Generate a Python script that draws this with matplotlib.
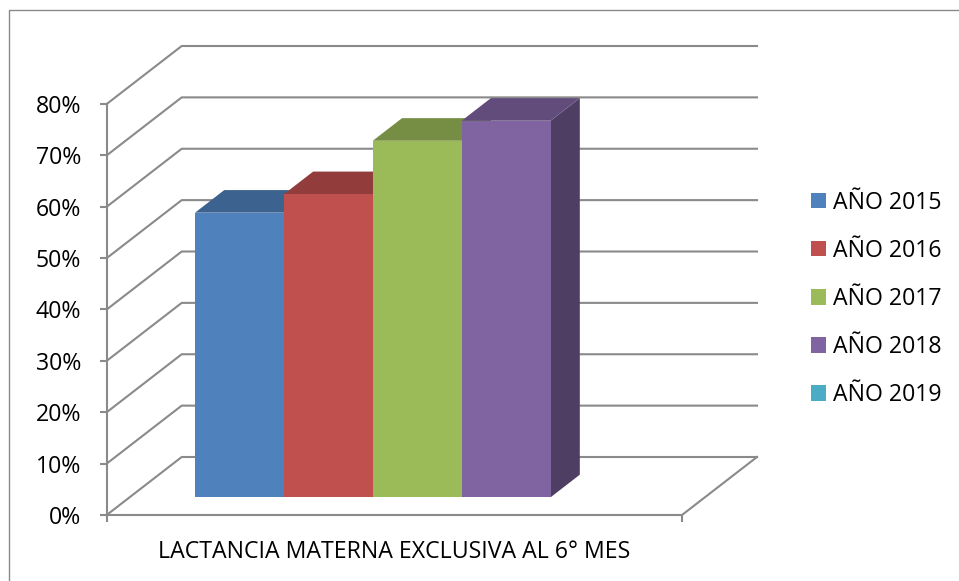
import numpy as np
import matplotlib
matplotlib.use("Agg")
import matplotlib.pyplot as plt
from matplotlib.patches import Polygon, Patch
from matplotlib.lines import Line2D
from matplotlib.transforms import IdentityTransform
from matplotlib.colors import to_rgb

plt.rcParams['font.family'] = ['Open Sans', 'DejaVu Sans']

categoria = 'LACTANCIA MATERNA EXCLUSIVA AL 6° MES'
series = ['AÑO 2015', 'AÑO 2016', 'AÑO 2017', 'AÑO 2018', 'AÑO 2019']
valores = [55.4, 59.0, 69.4, 73.3, None]   # 2019 sin dato
colores = ['#4F81BD', '#C0504D', '#9BBB59', '#8064A2', '#4BACC6']
yticks = [0, 10, 20, 30, 40, 50, 60, 70, 80]

W, H = 959, 581
gris = '#8a8a8a'
fs = 16.7

fig = plt.figure(figsize=(W / 100, H / 100), dpi=100)
ax = fig.add_axes([106.7 / W, 66 / H, 575.3 / W, 411 / H])

n = len(series)
gap = 0.736
ax.set_xlim(-gap, n + gap)
ax.set_ylim(0, 80)

# profundidad oblicua (pixeles) y posicion de las barras en la profundidad
ox, oy = 75, 58
d0, d1 = 0.305, 0.695


def proj(x, v, d):
    px, py = ax.transData.transform((x, v))
    return (px + d * ox, py + d * oy)


def linea(pts, **kw):
    xs, ys = zip(*pts)
    ax.add_line(Line2D(xs, ys, transform=IdentityTransform(), clip_on=False,
                       color=gris, lw=1.5, **kw))


def sombra(c, f):
    return tuple(np.array(to_rgb(c)) * f)


# paredes: lineas de division en pared lateral y fondo
for v in yticks:
    linea([proj(-gap, v, 0), proj(-gap, v, 1), proj(n + gap, v, 1)], zorder=1)
# borde derecho del piso
linea([proj(n + gap, 0, 0), proj(n + gap, 0, 1)], zorder=1)

# barras 3D
for i, (v, c) in enumerate(zip(valores, colores)):
    if v is None:
        continue
    x0, x1 = i, i + 1
    frente = [proj(x0, 0, d0), proj(x1, 0, d0), proj(x1, v, d0), proj(x0, v, d0)]
    lado = [proj(x1, 0, d0), proj(x1, 0, d1), proj(x1, v, d1), proj(x1, v, d0)]
    tapa = [proj(x0, v, d0), proj(x1, v, d0), proj(x1, v, d1), proj(x0, v, d1)]
    z = 3 + i
    for pts, col in [(lado, sombra(c, 0.62)), (tapa, sombra(c, 0.76)), (frente, c)]:
        ax.add_patch(Polygon(pts, closed=True, transform=IdentityTransform(),
                             facecolor=col, edgecolor='none', clip_on=False, zorder=z))

for s in ['top', 'right']:
    ax.spines[s].set_visible(False)
for s in ['left', 'bottom']:
    ax.spines[s].set_color(gris)
    ax.spines[s].set_linewidth(1.5)
ax.set_facecolor('none')

ax.set_yticks(yticks)
ax.set_yticklabels([f'{t}%' for t in yticks])
ax.set_xticks([-gap, n + gap])
ax.set_xticklabels([])
ax.tick_params(axis='y', length=5.3, width=1.5, color=gris, pad=13, labelsize=fs)
ax.tick_params(axis='x', length=4.7, width=1.5, color=gris)

fig.text(394.5 / W, (H - 558.3) / H, categoria, ha='center', va='baseline', fontsize=fs)

handles = [Patch(facecolor=c, edgecolor='none') for c in colores]
fig.legend(handles, series, loc='upper left', bbox_to_anchor=(810.7 / W, (H - 190.7) / H),
           frameon=False, fontsize=fs, handlelength=0.66, handleheight=0.66,
           handletextpad=0.3, labelspacing=1.04, borderpad=0, borderaxespad=0)

# marco del grafico
fig.add_artist(Line2D([9 / W, 9 / W, 1], [0, 1 - 10 / H, 1 - 10 / H],
                      transform=fig.transFigure, color=gris, lw=1))

fig.savefig('out.png', dpi=100)
